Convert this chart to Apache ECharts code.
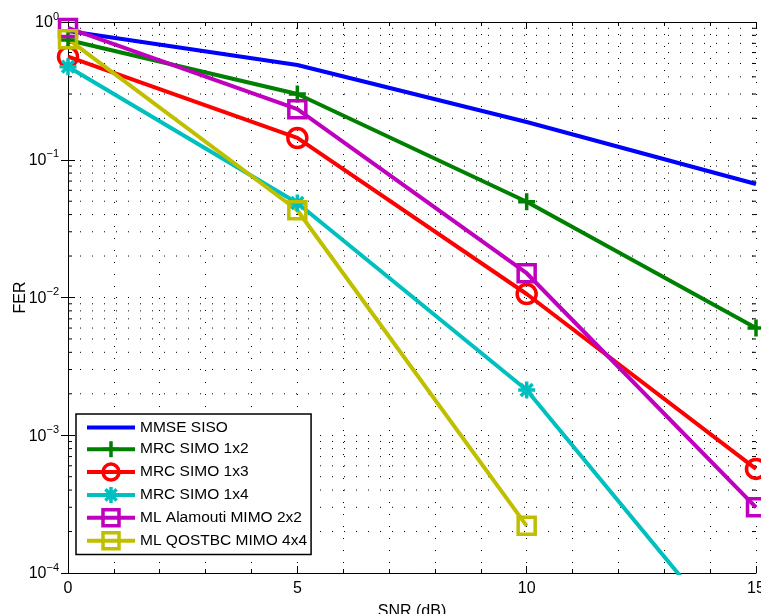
<!DOCTYPE html>
<html>
<head>
<meta charset="utf-8">
<script src="https://cdn.jsdelivr.net/npm/echarts@6/dist/echarts.min.js"></script>
<style>html,body{margin:0;padding:0;background:#fff}#c{width:761px;height:614px}</style>
</head>
<body>
<div id="c"></div>
<script>
// ---- data ----
const snr = [0, 5, 10, 15];
const seriesNames = ['MMSE SISO', 'MRC SIMO 1x2', 'MRC SIMO 1x3', 'MRC SIMO 1x4', 'ML Alamouti MIMO 2x2', 'ML QOSTBC MIMO 4x4'];
const mmseSiso      = [0.86, 0.487, 0.188, 0.0667];
const mrcSimo1x2    = [0.74, 0.300, 0.0496, 0.0060];
const mrcSimo1x3    = [0.56, 0.144, 0.0106, 0.00057];
const mrcSimo1x4    = [0.474, 0.0485, 0.00213, 0.0000205];
const mlAlamouti2x2 = [0.905, 0.233, 0.0150, 0.00030];
const mlQostbc4x4   = [0.75, 0.043, 0.00022, null];
const xTicks = [0, 5, 10, 15];
const yDecades = [1e-4, 1e-3, 1e-2, 1e-1, 1];
const minorMultipliers = [2, 3, 4, 5, 6, 7, 8, 9];

const colors = ['#0000ff', '#008000', '#ff0000', '#00bfbf', '#bf00bf', '#bfbf00'];
const allData = [mmseSiso, mrcSimo1x2, mrcSimo1x3, mrcSimo1x4, mlAlamouti2x2, mlQostbc4x4];

const plusPath = 'path://M0,-1L0,1M-1,0L1,0';
const starPath = 'path://M0,-1L0,1M-1,0L1,0M-0.7,-0.7L0.7,0.7M-0.7,0.7L0.7,-0.7';
const symbols = ['none', plusPath, 'circle', starPath, 'rect', 'rect'];
const symbolSizes = [0, 17, 19, 17, 17, 17];

const minorVals = [];
for (let i = 0; i < yDecades.length - 1; i++) {
  for (const m of minorMultipliers) minorVals.push([0, m * yDecades[i]]);
}

const FONT = 'Liberation Sans, Arial, Helvetica, sans-serif';
const FS = 16;
const dotStyle = { color: '#000', width: 1, type: [1, 11] };

const series = allData.map((d, i) => ({
  name: seriesNames[i],
  type: 'line',
  data: d.map((v, j) => [snr[j], v]),
  symbol: symbols[i],
  symbolSize: symbolSizes[i],
  showSymbol: symbols[i] !== 'none',
  lineStyle: { color: colors[i], width: 4 },
  itemStyle: { color: 'rgba(0,0,0,0)', borderColor: colors[i], borderWidth: 3.5 },
  color: colors[i],
  clip: true,
  z: 3,
  xAxisIndex: 0, yAxisIndex: 0,
  emphasis: { disabled: true }
}));

series.push({
  type: 'custom',
  name: 'minorGrid',
  coordinateSystem: 'cartesian2d',
  xAxisIndex: 0, yAxisIndex: 0,
  silent: true,
  z: 1,
  data: minorVals,
  renderItem: function (params, api) {
    const v = api.value(1);
    const p1 = api.coord([0, v]);
    const p2 = api.coord([15, v]);
    return {
      type: 'group',
      children: [
        { type: 'line', shape: { x1: p1[0], y1: p1[1], x2: p2[0], y2: p2[1] }, style: { stroke: '#000', lineWidth: 1, lineDash: [1, 11] } },
        { type: 'line', shape: { x1: p1[0], y1: p1[1], x2: p1[0] + 4, y2: p1[1] }, style: { stroke: '#000', lineWidth: 1 } },
        { type: 'line', shape: { x1: p2[0] - 4, y1: p2[1], x2: p2[0], y2: p2[1] }, style: { stroke: '#000', lineWidth: 1 } }
      ]
    };
  }
});

function yLabel(v) {
  const e = Math.round(Math.log10(v));
  const es = e < 0 ? '\u2212' + (-e) : String(e);
  return '{b|10}{s|' + es + '}';
}

const legendData = seriesNames.map((n, i) => i === 0
  ? { name: n, itemStyle: { color: 'rgba(0,0,0,0)', borderColor: 'rgba(0,0,0,0)', borderWidth: 0 } }
  : { name: n });

const xAxisCommon = {
  type: 'value', min: 0, max: 15, interval: 5,
  axisLine: { show: true, lineStyle: { color: '#000', width: 1 } },
  axisTick: { show: true, inside: true, length: 7, lineStyle: { color: '#000' } },
  minorTick: { show: true, splitNumber: 5, length: 4, lineStyle: { color: '#000' } }
};
const yAxisCommon = {
  type: 'log', logBase: 10, min: 1e-4, max: 1, splitNumber: 4,
  axisLine: { show: true, lineStyle: { color: '#000', width: 1 } },
  axisTick: { show: true, inside: true, length: 7, lineStyle: { color: '#000' } }
};

const option = {
  animation: false,
  backgroundColor: '#fff',
  textStyle: { fontFamily: FONT },
  grid: { left: 68, top: 22, width: 688, height: 551, containLabel: false, outerBoundsMode: 'none' },
  legend: {
    data: legendData,
    orient: 'vertical',
    left: 76, top: 414,
    backgroundColor: '#fff',
    borderColor: '#000', borderWidth: 1.5,
    borderRadius: 0,
    padding: [5, 4, 4, 9],
    itemWidth: 48, itemHeight: 20, itemGap: 3.4,
    lineStyle: { width: 4 },
    itemStyle: { borderWidth: 3.5 },
    textStyle: { fontFamily: FONT, fontSize: 15.5, color: '#000', lineHeight: 17 },
    selectedMode: false
  },
  xAxis: [
    Object.assign({}, xAxisCommon, {
      position: 'bottom',
      name: 'SNR (dB)', nameLocation: 'middle', nameGap: 31,
      nameTextStyle: { fontFamily: FONT, fontSize: FS, color: '#000' },
      axisLabel: { show: true, margin: 8, fontFamily: FONT, fontSize: FS, color: '#000' },
      splitLine: { show: true, lineStyle: dotStyle },
      minorSplitLine: { show: true, lineStyle: dotStyle }
    }),
    Object.assign({}, xAxisCommon, {
      position: 'top',
      axisLabel: { show: false },
      splitLine: { show: false }
    })
  ],
  yAxis: [
    Object.assign({}, yAxisCommon, {
      position: 'left',
      name: 'FER', nameLocation: 'middle', nameGap: 39, nameMoveOverlap: false,
      nameTextStyle: { fontFamily: FONT, fontSize: FS, color: '#000' },
      axisLabel: {
        show: true, margin: 9, formatter: yLabel,
        rich: {
          b: { fontFamily: FONT, fontSize: FS, color: '#000', lineHeight: 18, verticalAlign: 'bottom' },
          s: { fontFamily: FONT, fontSize: 11, color: '#000', lineHeight: 18, verticalAlign: 'bottom', padding: [0, 0, 9, 0] }
        }
      },
      splitLine: { show: true, lineStyle: dotStyle }
    }),
    Object.assign({}, yAxisCommon, {
      position: 'right',
      axisLabel: { show: false },
      splitLine: { show: false }
    })
  ],
  series: series
};

const chart = echarts.init(document.getElementById('c'), null, { renderer: 'canvas' });
chart.setOption(option);
</script>
</body>
</html>
